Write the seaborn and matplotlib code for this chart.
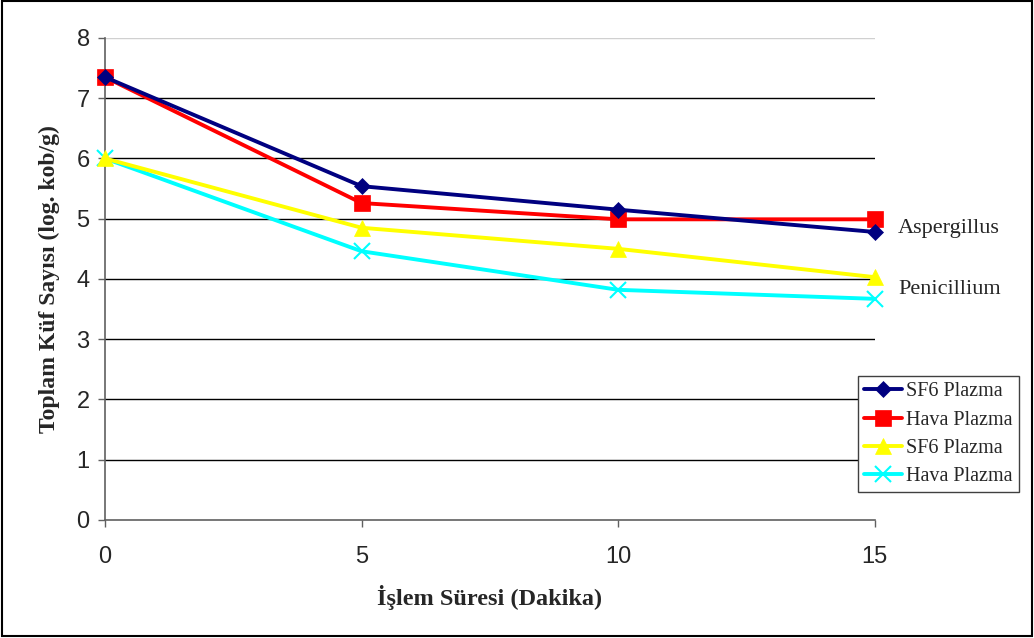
import matplotlib
matplotlib.use("Agg")
import matplotlib.pyplot as plt
import seaborn as sns
import pandas as pd

# Treatment time (minutes)
sure = [0, 5, 10, 15]

# Total mould count (log cfu/g)
asp_sf6 = [7.35, 5.54, 5.15, 4.78]
asp_hava = [7.35, 5.26, 4.99, 4.99]
pen_sf6 = [6.0, 4.85, 4.50, 4.03]
pen_hava = [6.0, 4.46, 3.82, 3.67]

seri_adlari = ["SF6 Plazma", "Hava Plazma", "SF6 Plazma", "Hava Plazma"]
seri_degerleri = [asp_sf6, asp_hava, pen_sf6, pen_hava]
renkler = ["#000080", "#FF0000", "#FFFF00", "#00FFFF"]
isaretler = ["D", "s", "^", "x"]
isaret_boyu = [8, 11, 11, 12]

sns.set_style("white")
plt.rcParams["font.family"] = ["Liberation Sans", "DejaVu Sans"]

fig = plt.figure(figsize=(10.34, 6.38), dpi=100)
ax = fig.add_axes([0.1015, 0.185, 0.7445, 0.7555])

for i, (ad, deger) in enumerate(zip(seri_adlari, seri_degerleri)):
    df = pd.DataFrame({"sure": sure, "deger": deger})
    sns.lineplot(data=df, x="sure", y="deger", ax=ax, color=renkler[i],
                 marker=isaretler[i], markersize=isaret_boyu[i],
                 markeredgecolor=renkler[i], markeredgewidth=1.5 if isaretler[i] == "x" else 0.5,
                 linewidth=2.8, label=ad, zorder=3 + (3 - i) * 0.1, clip_on=False)

ax.set_xlim(0, 15)
ax.set_ylim(0, 8)
ax.set_xticks([0, 5, 10, 15])
ax.set_yticks(range(0, 9))
ax.tick_params(axis="both", direction="out", length=5, width=1, color="#606060",
               labelsize=17, pad=6, bottom=True, left=True)
ax.tick_params(axis="x", pad=14)

for y in range(1, 8):
    ax.axhline(y, color="black", linewidth=1, zorder=1)
ax.axhline(8, color="#d0d0d0", linewidth=1, zorder=1)

for s in ["top", "right"]:
    ax.spines[s].set_visible(False)
for s in ["left", "bottom"]:
    ax.spines[s].set_color("#606060")
    ax.spines[s].set_linewidth(1.2)

serif = ["Liberation Serif", "DejaVu Serif"]
ax.set_xlabel("İşlem Süresi (Dakika)", fontsize=17.5, fontweight="bold", family=serif, labelpad=12)
ax.set_ylabel("Toplam Küf Sayısı (log. kob/g)", fontsize=17, fontweight="bold", family=serif, labelpad=12)

fig.text(898 / 1034, 1 - 228 / 638, "Aspergillus", fontsize=16, family=serif, va="center", ha="left")
fig.text(898 / 1034, 1 - 289 / 638, "Penicillium", fontsize=16, family=serif, va="center", ha="left")

leg = ax.legend(loc="lower left", bbox_to_anchor=(858 / 1034, 1 - 492 / 638),
                bbox_transform=fig.transFigure, prop={"family": serif, "size": 14.5},
                frameon=True, fancybox=False, edgecolor="#404040", framealpha=1,
                handlelength=1.9, handletextpad=0.2, borderpad=0.3, labelspacing=0.45,
                borderaxespad=0)
leg.get_frame().set_linewidth(1)

# Outer frame around the figure
fig.patches.append(plt.Rectangle((0.002, 0.003), 0.996, 0.995, transform=fig.transFigure,
                                 fill=False, edgecolor="black", linewidth=1.5))

fig.savefig("out.png", dpi=100)
